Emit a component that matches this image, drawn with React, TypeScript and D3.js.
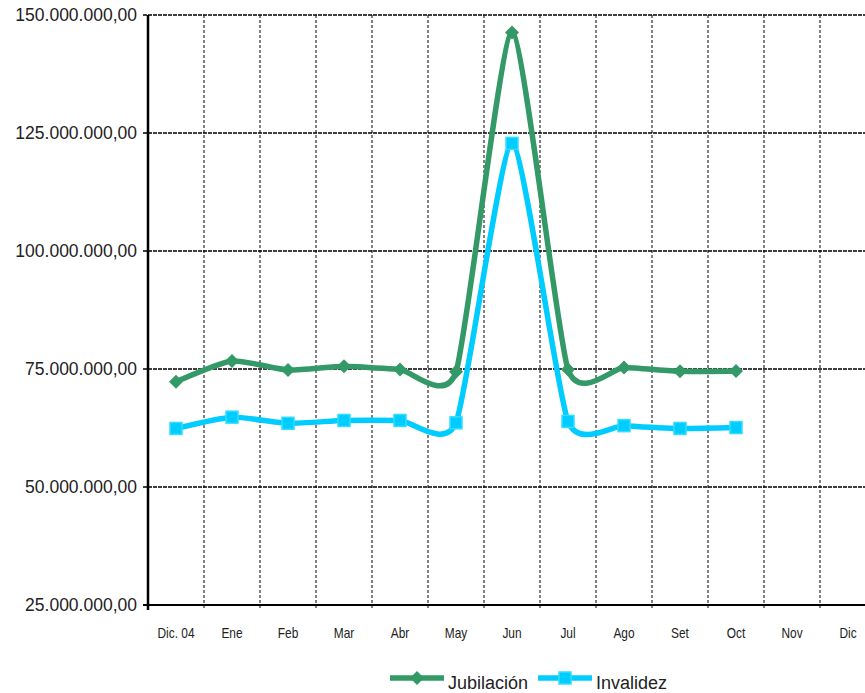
import { useEffect, useRef } from "react";
import * as d3 from "d3";

const months = ["Dic. 04", "Ene", "Feb", "Mar", "Abr", "May", "Jun", "Jul", "Ago", "Set", "Oct", "Nov", "Dic"];
const jubilacion = [72.3, 76.7, 74.8, 75.6, 74.9, 74.4, 146.3, 74.9, 75.3, 74.5, 74.6];
const invalidez = [62.4, 64.8, 63.5, 64.1, 64.1, 63.6, 122.8, 63.9, 63.0, 62.4, 62.6];
const yTicks = [25, 50, 75, 100, 125, 150];

const seriesList = [
    { name: "Jubilación", values: jubilacion, color: "#339966", marker: "diamond" },
    { name: "Invalidez", values: invalidez, color: "#00CCFF", marker: "square" },
];

const fmt = (v: number) => d3.format(",.2f")(v * 1e6).replace(/,/g, "#").replace(".", ",").replace(/#/g, ".");

export default function App() {
    const ref = useRef<SVGSVGElement | null>(null);

    useEffect(() => {
        const width = 865;
        const height = 693;
        const margin = { top: 15, left: 148, bottom: 88 };
        const svg = d3.select(ref.current);
        svg.selectAll("*").remove();

        const x = d3.scaleBand<string>().domain(months).range([margin.left, margin.left + 56 * 13]);
        const y = d3.scaleLinear().domain([25, 150]).range([height - margin.bottom, margin.top]);
        const cx = (i: number) => (x(months[i]) ?? 0) + x.bandwidth() / 2;

        const plot = svg.append("g");

        // vertical dashed grid
        months.forEach((m, i) => {
            if (i === 0) return;
            const xx = x(m) ?? 0;
            plot.append("line")
                .attr("x1", xx).attr("x2", xx)
                .attr("y1", y(150)).attr("y2", y(25) + 5)
                .attr("stroke", "#000").attr("stroke-width", 1)
                .attr("stroke-dasharray", "3,2");
        });

        // horizontal grid
        yTicks.forEach((t) => {
            if (t === 25) return;
            plot.append("line")
                .attr("x1", margin.left - 5).attr("x2", width)
                .attr("y1", y(t)).attr("y2", y(t))
                .attr("stroke", "#000").attr("stroke-width", 1.3)
                .attr("stroke-dasharray", "4,1");
        });

        // axes
        plot.append("line")
            .attr("x1", margin.left - 5).attr("x2", width)
            .attr("y1", y(25)).attr("y2", y(25))
            .attr("stroke", "#000").attr("stroke-width", 2);
        plot.append("line")
            .attr("x1", margin.left).attr("x2", margin.left)
            .attr("y1", y(150)).attr("y2", y(25) + 5)
            .attr("stroke", "#000").attr("stroke-width", 2.5);

        const yAxis = d3.axisLeft(y).tickValues(yTicks).tickSize(0).tickPadding(8).tickFormat((d) => fmt(d as number));
        const gy = svg.append("g").attr("transform", `translate(${margin.left - 3},0)`).call(yAxis);
        gy.select(".domain").remove();
        gy.selectAll("text")
            .attr("font-family", "'Liberation Sans', Arial, sans-serif")
            .attr("font-size", 17.5).attr("fill", "#222");

        months.forEach((m, i) => {
            svg.append("text")
                .attr("transform", `translate(${cx(i)},638) scale(0.85,1)`)
                .attr("text-anchor", "middle")
                .attr("font-family", "'Liberation Sans', Arial, sans-serif")
                .attr("font-size", 14).attr("fill", "#222")
                .text(m);
        });

        const line = d3.line<number>()
            .x((_, i) => cx(i))
            .y((d) => y(d))
            .curve(d3.curveCardinal.tension(0.42));

        const drawMarker = (g: any, kind: string, px: number, py: number, color: string) => {
            if (kind === "diamond") {
                g.append("path")
                    .attr("d", `M${px},${py - 7}L${px + 7},${py}L${px},${py + 7}L${px - 7},${py}Z`)
                    .attr("fill", color);
            } else {
                g.append("rect")
                    .attr("x", px - 6).attr("y", py - 6).attr("width", 12).attr("height", 12)
                    .attr("fill", color).attr("stroke", "#33ddff").attr("stroke-width", 1.5);
            }
        };

        seriesList.forEach((s) => {
            const g = plot.append("g");
            g.append("path")
                .datum(s.values)
                .attr("d", line)
                .attr("fill", "none")
                .attr("stroke", s.color)
                .attr("stroke-width", 5.5)
                .attr("stroke-linejoin", "round");
            s.values.forEach((v, i) => drawMarker(g, s.marker, cx(i), y(v), s.color));
        });

        // legend
        const legendPos = [{ x: 390 }, { x: 538 }];
        seriesList.forEach((s, k) => {
            const lx = legendPos[k].x;
            const ly = 678;
            const g = svg.append("g");
            g.append("line")
                .attr("x1", lx).attr("x2", lx + 54)
                .attr("y1", ly).attr("y2", ly)
                .attr("stroke", s.color).attr("stroke-width", 5.5);
            drawMarker(g, s.marker, lx + 27, ly, s.color);
            g.append("text")
                .attr("x", lx + 58).attr("y", ly + 11)
                .attr("font-family", "'Liberation Sans', Arial, sans-serif")
                .attr("font-size", 18).attr("fill", "#222")
                .text(s.name);
        });
    }, []);

    return (
        <svg
            ref={ref}
            width={865}
            height={693}
            style={{ position: "absolute", left: 0, top: 0, background: "#fff" }}
        />
    );
}
